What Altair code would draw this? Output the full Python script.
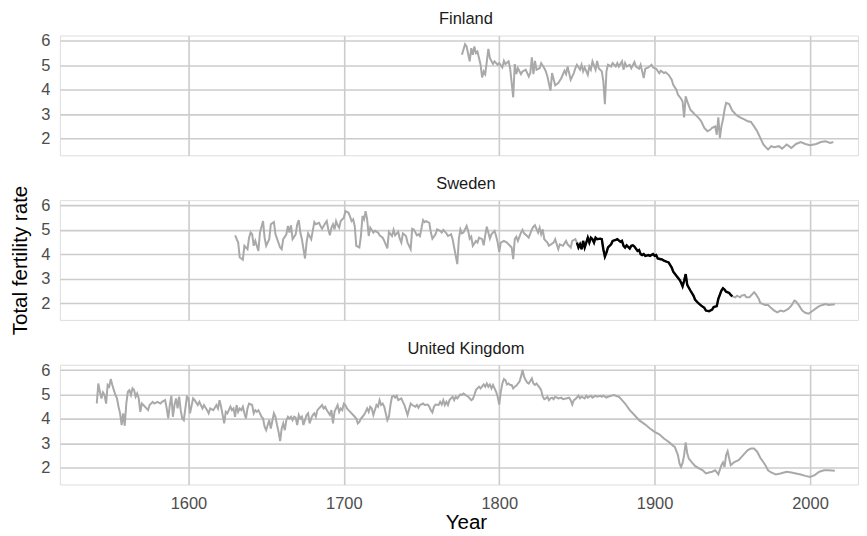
import altair as alt
import pandas as pd

# ---------------- data ----------------
fin_years = [1776, 1778, 1779, 1781, 1782, 1783, 1784, 1785, 1786, 1788, 1789, 1790, 1791, 1793, 1794, 1796, 1797, 1799,
             1800, 1802, 1803, 1804, 1806, 1807, 1809, 1810, 1811, 1812, 1814, 1815, 1817, 1819, 1820, 1821, 1822, 1823,
             1824, 1826, 1827, 1829, 1830, 1831, 1833, 1834, 1836, 1838, 1840, 1842, 1843, 1844, 1846, 1848, 1849, 1850,
             1852, 1853, 1854, 1855, 1857, 1858, 1859, 1860, 1862, 1863, 1864, 1866, 1867, 1868, 1869, 1870, 1872, 1873,
             1875, 1876, 1877, 1879, 1880, 1881, 1882, 1884, 1885, 1887, 1888, 1890, 1891, 1893, 1894, 1896, 1898, 1899,
             1901, 1903, 1904, 1906, 1907, 1909, 1911, 1912, 1914, 1915, 1917, 1918, 1919, 1920, 1921, 1923, 1924, 1926,
             1928, 1930, 1932, 1934, 1936, 1937, 1939, 1940, 1941, 1942, 1943, 1944, 1945, 1946, 1948, 1950, 1952, 1953,
             1955, 1958, 1960, 1962, 1964, 1966, 1968, 1970, 1973, 1975, 1977, 1980, 1982, 1985, 1988, 1991, 1994, 1997,
             2000, 2004, 2007, 2010, 2013, 2015]
fin_tfr = [5.43, 5.86, 5.77, 5.16, 5.70, 5.43, 5.77, 5.50, 5.56, 5.02, 4.50, 4.75, 4.64, 5.67, 5.29, 5.05, 5.16, 5.02,
           5.09, 4.91, 5.18, 5.05, 5.16, 4.88, 3.69, 5.05, 4.64, 4.88, 4.64, 4.75, 4.82, 4.54, 4.68, 5.32, 4.64, 5.18,
           4.82, 4.88, 5.09, 4.88, 4.75, 4.54, 3.96, 4.68, 4.18, 4.27, 4.48, 4.78, 4.64, 4.95, 4.41, 4.68, 4.88, 5.02,
           4.82, 5.02, 4.75, 4.91, 4.61, 4.95, 4.82, 5.16, 4.82, 5.18, 4.88, 4.75, 4.34, 3.41, 4.75, 5.02, 4.95, 5.09,
           4.95, 5.09, 4.95, 5.16, 4.82, 5.09, 4.95, 5.02, 4.88, 5.13, 4.95, 4.86, 5.02, 4.48, 4.86, 4.91, 5.02, 4.91,
           4.86, 4.68, 4.78, 4.68, 4.72, 4.61, 4.41, 4.20, 4.00, 3.80, 3.63, 3.52, 2.87, 3.73, 3.52, 3.18, 3.12, 2.98,
           2.87, 2.71, 2.44, 2.30, 2.37, 2.44, 2.50, 2.16, 2.87, 2.03, 2.50, 2.78, 3.18, 3.46, 3.41, 3.14, 3.01, 2.95,
           2.87, 2.78, 2.71, 2.68, 2.50, 2.30, 2.03, 1.76, 1.55, 1.69, 1.65, 1.69, 1.59, 1.76, 1.62, 1.78, 1.86, 1.78,
           1.73, 1.78, 1.86, 1.89, 1.82, 1.86]

swe_years = [1630, 1632, 1633, 1634, 1635, 1636, 1638, 1639, 1640, 1641, 1642, 1643, 1645, 1646, 1648, 1649, 1650, 1652,
             1653, 1655, 1656, 1657, 1659, 1660, 1661, 1663, 1664, 1665, 1666, 1667, 1669, 1670, 1671, 1672, 1673, 1675,
             1676, 1677, 1679, 1680, 1681, 1682, 1684, 1685, 1686, 1688, 1689, 1690, 1691, 1692, 1693, 1694, 1695, 1696,
             1697, 1698, 1700, 1701, 1703, 1704, 1705, 1706, 1707, 1708, 1710, 1711, 1712, 1713, 1714, 1715, 1716, 1717,
             1719, 1720, 1722, 1723, 1725, 1726, 1728, 1729, 1731, 1732, 1733, 1735, 1736, 1737, 1738, 1740, 1741, 1743,
             1744, 1745, 1747, 1748, 1749, 1751, 1752, 1753, 1755, 1756, 1757, 1759, 1760, 1762, 1763, 1764, 1766, 1767,
             1769, 1770, 1771, 1773, 1774, 1775, 1776, 1777, 1779, 1780, 1781, 1782, 1783, 1785, 1786, 1787, 1789, 1790,
             1791, 1792, 1794, 1795, 1797, 1798, 1799, 1800, 1801, 1803, 1805, 1806, 1808, 1809, 1810, 1811, 1812, 1814,
             1815, 1816, 1818, 1819, 1821, 1822, 1823, 1825, 1826, 1827, 1828, 1829, 1831, 1832, 1835, 1836, 1838, 1839,
             1841, 1843, 1844, 1846, 1847, 1849, 1850, 1851, 1852, 1853, 1854, 1855, 1856, 1857, 1858, 1859, 1860, 1861,
             1862, 1863, 1865, 1866, 1867, 1868, 1869, 1870, 1872, 1873, 1875, 1876, 1878, 1879, 1880, 1881, 1882, 1884,
             1885, 1886, 1887, 1889, 1890, 1891, 1892, 1893, 1894, 1896, 1897, 1899, 1900, 1901, 1902, 1904, 1905, 1906,
             1908, 1909, 1911, 1912, 1914, 1916, 1917, 1918, 1919, 1920, 1921, 1923, 1925, 1926, 1928, 1930, 1932, 1933,
             1935, 1937, 1938, 1940, 1941, 1943, 1944, 1945, 1946, 1948, 1949, 1950, 1952, 1953, 1955, 1956, 1958, 1959,
             1961, 1962, 1964, 1965, 1967, 1968, 1971, 1973, 1975, 1977, 1979, 1981, 1983, 1986, 1988, 1990, 1991, 1993,
             1995, 1997, 1999, 2002, 2004, 2006, 2008, 2010, 2012, 2015, 2016]
swe_tfr = [4.78, 4.48, 3.87, 3.83, 3.78, 4.35, 4.21, 4.68, 4.89, 4.82, 4.35, 4.55, 4.14, 4.89, 5.36, 4.68, 4.35, 4.62,
           5.23, 5.32, 4.82, 4.64, 4.28, 4.21, 4.62, 4.82, 5.16, 4.89, 5.19, 4.62, 4.82, 5.23, 5.40, 4.89, 4.62, 3.83,
           4.48, 4.86, 4.62, 4.96, 5.32, 5.23, 5.29, 5.16, 5.05, 5.27, 5.36, 5.02, 4.78, 5.09, 5.23, 5.02, 5.36, 5.19,
           5.09, 5.36, 5.50, 5.77, 5.70, 5.54, 5.36, 5.43, 5.16, 4.35, 4.28, 4.75, 5.57, 5.43, 5.77, 5.43, 4.75, 5.09,
           4.89, 4.96, 4.89, 4.78, 4.68, 4.55, 4.24, 4.92, 4.75, 5.00, 4.78, 4.92, 4.64, 4.48, 4.86, 4.75, 4.48, 4.21,
           5.05, 5.02, 4.78, 4.82, 4.75, 5.40, 5.32, 5.36, 5.29, 4.89, 4.64, 4.82, 5.02, 4.96, 4.89, 5.00, 4.86, 4.75,
           4.82, 4.62, 4.28, 3.60, 4.62, 5.02, 4.86, 4.89, 5.16, 4.96, 4.64, 4.72, 4.35, 4.55, 4.48, 4.68, 4.62, 4.37,
           4.78, 5.13, 4.64, 4.82, 4.96, 4.75, 4.48, 4.10, 4.48, 4.55, 4.48, 4.41, 4.28, 3.80, 4.62, 4.72, 4.55, 4.89,
           5.00, 4.86, 4.75, 4.68, 5.02, 5.13, 5.19, 4.89, 5.09, 4.82, 5.02, 4.62, 4.48, 4.35, 4.48, 4.62, 4.21, 4.41,
           4.35, 4.55, 4.41, 4.28, 4.55, 4.62, 4.48, 4.28, 4.41, 4.21, 4.55, 4.28, 4.48, 4.68, 4.48, 4.68, 4.62, 4.48,
           4.68, 4.62, 4.64, 4.62, 4.21, 3.91, 4.07, 4.28, 4.41, 4.55, 4.59, 4.62, 4.51, 4.55, 4.35, 4.28, 4.37, 4.24,
           4.35, 4.37, 4.32, 4.14, 4.18, 4.01, 3.97, 4.01, 3.94, 3.97, 3.94, 4.01, 3.94, 3.97, 3.83, 3.80, 3.78, 3.74,
           3.69, 3.67, 3.46, 3.29, 3.12, 2.96, 2.85, 2.69, 2.92, 3.19, 2.75, 2.52, 2.31, 2.15, 2.01, 1.90, 1.81, 1.70,
           1.67, 1.74, 1.84, 1.88, 2.18, 2.52, 2.61, 2.56, 2.47, 2.42, 2.34, 2.28, 2.24, 2.31, 2.24, 2.31, 2.34, 2.24,
           2.24, 2.31, 2.45, 2.38, 2.18, 2.01, 1.93, 1.93, 1.80, 1.70, 1.63, 1.70, 1.66, 1.77, 1.90, 2.11, 2.07, 1.90,
           1.70, 1.61, 1.57, 1.70, 1.80, 1.88, 1.93, 1.97, 1.93, 1.95, 1.96]

uk_years = [1541, 1542, 1543, 1544, 1545, 1546, 1547, 1548, 1549, 1550, 1551, 1552, 1553, 1554, 1555, 1556, 1557, 1558,
            1559, 1560, 1561, 1562, 1563, 1564, 1565, 1566, 1567, 1568, 1569, 1570, 1571, 1573, 1574, 1575, 1577, 1578,
            1580, 1582, 1583, 1585, 1586, 1587, 1588, 1589, 1590, 1591, 1592, 1593, 1594, 1595, 1596, 1597, 1598, 1599,
            1600, 1601, 1603, 1604, 1606, 1607, 1609, 1610, 1612, 1613, 1614, 1616, 1618, 1619, 1620, 1621, 1622, 1623,
            1624, 1625, 1627, 1628, 1629, 1630, 1631, 1632, 1633, 1634, 1635, 1636, 1637, 1638, 1639, 1641, 1642, 1643,
            1644, 1645, 1646, 1647, 1648, 1649, 1650, 1651, 1652, 1653, 1655, 1656, 1657, 1658, 1659, 1660, 1661, 1662,
            1663, 1664, 1665, 1666, 1667, 1668, 1669, 1670, 1671, 1672, 1673, 1674, 1676, 1677, 1678, 1679, 1680, 1681,
            1682, 1683, 1684, 1685, 1686, 1687, 1688, 1689, 1691, 1692, 1693, 1694, 1695, 1696, 1697, 1698, 1699, 1700,
            1701, 1702, 1703, 1705, 1706, 1707, 1708, 1709, 1710, 1711, 1712, 1713, 1714, 1715, 1716, 1717, 1718, 1719,
            1721, 1722, 1723, 1724, 1725, 1726, 1728, 1729, 1730, 1731, 1732, 1733, 1734, 1735, 1737, 1738, 1739, 1740,
            1741, 1743, 1744, 1746, 1747, 1748, 1749, 1751, 1752, 1754, 1755, 1756, 1757, 1758, 1759, 1761, 1762, 1763,
            1764, 1765, 1766, 1767, 1768, 1769, 1770, 1771, 1772, 1773, 1775, 1776, 1777, 1779, 1780, 1782, 1783, 1784,
            1785, 1786, 1787, 1788, 1790, 1791, 1792, 1793, 1794, 1795, 1796, 1797, 1798, 1799, 1800, 1801, 1802, 1803,
            1804, 1805, 1806, 1807, 1808, 1809, 1810, 1811, 1812, 1813, 1814, 1815, 1816, 1817, 1818, 1819, 1820, 1821,
            1822, 1823, 1824, 1825, 1826, 1827, 1828, 1829, 1830, 1831, 1832, 1833, 1834, 1835, 1836, 1838, 1840, 1841,
            1843, 1845, 1846, 1847, 1848, 1849, 1851, 1852, 1853, 1855, 1856, 1857, 1859, 1860, 1862, 1863, 1865, 1866,
            1867, 1869, 1870, 1872, 1874, 1875, 1877, 1878, 1881, 1884, 1887, 1890, 1894, 1897, 1900, 1903, 1906, 1909,
            1912, 1913, 1915, 1916, 1917, 1918, 1919, 1920, 1921, 1922, 1924, 1926, 1928, 1931, 1933, 1935, 1937, 1939,
            1941, 1943, 1944, 1945, 1946, 1947, 1948, 1949, 1951, 1954, 1956, 1958, 1960, 1962, 1964, 1966, 1968, 1971,
            1973, 1975, 1978, 1981, 1985, 1988, 1991, 1994, 1997, 2000, 2003, 2006, 2009, 2012, 2016]
uk_tfr = [4.63, 5.45, 5.11, 4.84, 5.09, 4.98, 4.63, 5.39, 5.32, 5.63, 5.39, 5.18, 4.98, 4.84, 4.50, 4.23, 3.75, 4.23,
          3.72, 4.63, 5.11, 5.18, 4.98, 5.25, 5.18, 4.91, 5.04, 4.84, 4.29, 4.63, 4.57, 4.43, 4.36, 4.57, 4.70, 4.63,
          4.70, 4.63, 4.70, 4.77, 4.43, 4.02, 4.57, 4.95, 4.09, 4.57, 4.84, 4.43, 4.91, 4.36, 4.02, 3.95, 4.43, 4.91,
          4.84, 4.23, 4.84, 4.77, 4.57, 4.70, 4.43, 4.57, 4.36, 4.23, 4.43, 4.36, 4.57, 4.43, 4.77, 4.50, 4.16, 3.82,
          4.29, 4.23, 4.50, 4.36, 4.43, 4.09, 4.57, 4.29, 4.43, 4.36, 4.50, 4.23, 4.02, 4.43, 4.63, 4.57, 4.23, 4.36,
          4.29, 4.36, 4.23, 4.09, 4.02, 3.68, 3.54, 3.75, 3.95, 3.61, 4.23, 4.09, 3.75, 3.47, 3.09, 3.61, 3.82, 3.54,
          3.95, 4.09, 4.02, 4.09, 3.95, 4.09, 4.05, 3.75, 4.16, 4.02, 4.09, 3.75, 4.16, 4.23, 3.82, 4.02, 4.16, 4.23,
          4.09, 4.36, 4.43, 4.50, 4.57, 4.43, 4.50, 4.36, 4.16, 4.36, 3.82, 4.29, 4.43, 4.57, 4.29, 4.43, 4.36, 4.63,
          4.57, 4.43, 4.36, 4.23, 4.16, 4.09, 4.02, 3.82, 3.88, 4.02, 4.09, 4.16, 4.29, 4.43, 4.29, 4.50, 4.43, 4.16,
          4.57, 4.50, 4.77, 4.57, 4.63, 4.50, 3.95, 4.09, 4.57, 4.91, 4.95, 4.87, 4.95, 4.77, 4.84, 4.70, 4.57, 4.36,
          4.16, 4.63, 4.57, 4.50, 4.57, 4.46, 4.57, 4.63, 4.57, 4.59, 4.50, 4.36, 4.27, 4.50, 4.59, 4.57, 4.70, 4.59,
          4.77, 4.57, 4.70, 4.57, 4.77, 4.84, 4.91, 4.77, 4.91, 4.84, 5.00, 4.98, 5.04, 4.95, 4.91, 4.77, 4.81, 4.98,
          5.18, 5.25, 5.32, 5.25, 5.41, 5.32, 5.45, 5.32, 5.41, 5.25, 5.39, 5.25, 5.11, 4.91, 4.59, 5.11, 5.45, 5.63,
          5.59, 5.41, 5.45, 5.39, 5.39, 5.25, 5.32, 5.36, 5.45, 5.52, 5.73, 6.00, 5.73, 5.59, 5.49, 5.45, 5.55, 5.66,
          5.45, 5.39, 5.45, 5.36, 5.28, 5.18, 4.91, 4.81, 4.84, 4.91, 4.77, 4.84, 4.87, 4.81, 4.91, 4.84, 4.87, 4.81,
          4.84, 4.87, 4.77, 4.59, 4.77, 4.81, 4.95, 4.84, 4.91, 4.84, 4.95, 4.87, 4.95, 4.87, 4.95, 4.91, 4.95, 4.91,
          4.95, 4.87, 4.91, 4.95, 4.98, 4.95, 4.91, 4.84, 4.63, 4.36, 4.16, 3.95, 3.77, 3.61, 3.47, 3.37, 3.20, 3.07,
          2.90, 2.86, 2.52, 2.18, 2.04, 2.20, 2.52, 3.04, 2.59, 2.38, 2.22, 2.08, 2.00, 1.90, 1.77, 1.81, 1.84, 1.90,
          1.73, 2.11, 2.22, 2.04, 2.52, 2.68, 2.38, 2.11, 2.22, 2.31, 2.45, 2.59, 2.73, 2.79, 2.79, 2.66, 2.41, 2.14,
          1.90, 1.81, 1.73, 1.77, 1.84, 1.81, 1.77, 1.73, 1.67, 1.63, 1.70, 1.84, 1.90, 1.90, 1.88]

countries = ["Finland", "Sweden", "United Kingdom"]
x_ticks = [1600, 1700, 1800, 1900, 2000]
y_ticks = [2, 3, 4, 5, 6]
highlight_country = "Sweden"
highlight_range = [1850, 1950]

rows = []
for c, ys, vs in [("Finland", fin_years, fin_tfr), ("Sweden", swe_years, swe_tfr),
                  ("United Kingdom", uk_years, uk_tfr)]:
    for y, v in zip(ys, vs):
        rows.append({"country": c, "year": y, "tfr": v})
df = pd.DataFrame(rows)

# ---------------- styling ----------------
FONT = "Liberation Sans"
GRID = "#cccccc"
PW, PH = 800, 120
X_DOMAIN = [1517.25, 1517.25 + PW / 1.5575]
Y_DOMAIN = [1.318, 6.216]


def panel(country, bottom=False, ytitle=None, title_offset=-8):
    xaxis = alt.Axis(values=x_ticks, format="d", labels=bottom, title="Year" if bottom else None,
                     ticks=False, domain=False, grid=True, gridColor=GRID, gridWidth=1.6,
                     labelFont=FONT, labelFontSize=16.5, labelColor="#4d4d4d", labelPadding=11,
                     titleFont=FONT, titleFontSize=20.6, titleFontWeight="normal", titleColor="#000000",
                     titlePadding=1, titleX=PW / 2 + 7)
    yaxis = alt.Axis(values=y_ticks, format="d", title=ytitle, ticks=False, domain=False, grid=True,
                     gridColor=GRID, gridWidth=1.6, labelFont=FONT, labelFontSize=16.5,
                     labelColor="#4d4d4d", labelPadding=10, titleFont=FONT, titleFontSize=20.6,
                     titleFontWeight="normal", titleColor="#000000", titlePadding=10)
    x = alt.X("year:Q", scale=alt.Scale(domain=X_DOMAIN, nice=False, zero=False), axis=xaxis)
    y = alt.Y("tfr:Q", scale=alt.Scale(domain=Y_DOMAIN, nice=False, zero=False), axis=yaxis)
    base = alt.Chart(df).transform_filter(alt.datum.country == country)
    layers = [base.mark_line(color="#a9a9a9", strokeWidth=2.0).encode(x=x, y=y)]
    if country == highlight_country:
        layers.append(
            base.transform_filter((alt.datum.year >= highlight_range[0]) & (alt.datum.year <= highlight_range[1]))
            .mark_line(color="#000000", strokeWidth=2.4).encode(x=x, y=y)
        )
    return alt.layer(*layers).properties(
        width=PW, height=PH,
        title=alt.TitleParams(country, font=FONT, fontSize=16.5, fontWeight="normal", color="#1a1a1a",
                              anchor="middle", frame="group", offset=title_offset, dx=7, baseline="alphabetic"),
    )


chart = alt.vconcat(
    panel("Finland"),
    panel("Sweden", ytitle="Total fertility rate", title_offset=-20),
    panel("United Kingdom", bottom=True),
    spacing=45,
    bounds="flush",
).properties(padding={"left": 2, "top": 2, "right": 0, "bottom": 0}
).configure_view(stroke="transparent", strokeWidth=0).configure(background="#ffffff")

chart.save("out.html", embed_options={"renderer": "svg", "actions": False})
